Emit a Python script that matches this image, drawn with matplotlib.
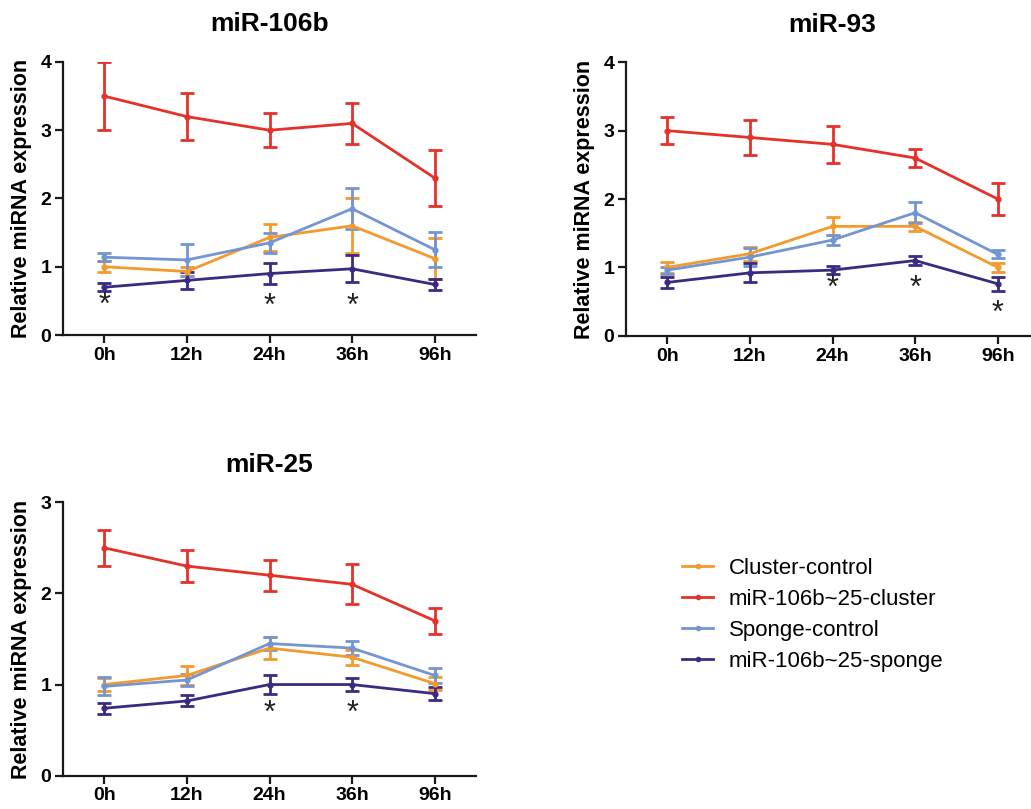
import matplotlib
matplotlib.use("Agg")
import matplotlib.pyplot as plt

plt.rcParams['font.family'] = ['Liberation Sans', 'DejaVu Sans']

# time points
time_labels = ['0h', '12h', '24h', '36h', '96h']
series_names = ['Cluster-control', 'miR-106b~25-cluster', 'Sponge-control', 'miR-106b~25-sponge']
series_colors = ['#F39A2C', '#E4322B', '#7395D0', '#3C2A82']

# miR-106b
mir106b_cluster_ctrl = [1.00, 0.93, 1.43, 1.60, 1.12]
mir106b_cluster_ctrl_err = [0.08, 0.06, 0.20, 0.40, 0.30]
mir106b_cluster = [3.50, 3.20, 3.00, 3.10, 2.30]
mir106b_cluster_err = [0.50, 0.34, 0.25, 0.30, 0.41]
mir106b_sponge_ctrl = [1.14, 1.10, 1.35, 1.85, 1.25]
mir106b_sponge_ctrl_err = [0.06, 0.23, 0.15, 0.30, 0.26]
mir106b_sponge = [0.70, 0.80, 0.90, 0.97, 0.74]
mir106b_sponge_err = [0.06, 0.12, 0.16, 0.20, 0.08]
mir106b_stars = [(0, 0.57), (2, 0.55), (3, 0.55)]

# miR-93
mir93_cluster_ctrl = [1.00, 1.20, 1.60, 1.60, 1.00]
mir93_cluster_ctrl_err = [0.08, 0.10, 0.13, 0.07, 0.07]
mir93_cluster = [3.00, 2.90, 2.80, 2.60, 2.00]
mir93_cluster_err = [0.20, 0.25, 0.27, 0.13, 0.23]
mir93_sponge_ctrl = [0.96, 1.15, 1.40, 1.80, 1.19]
mir93_sponge_ctrl_err = [0.05, 0.13, 0.07, 0.15, 0.06]
mir93_sponge = [0.78, 0.92, 0.96, 1.10, 0.76]
mir93_sponge_err = [0.08, 0.14, 0.06, 0.07, 0.10]
mir93_stars = [(2, 0.83), (3, 0.83), (4, 0.46)]

# miR-25
mir25_cluster_ctrl = [1.00, 1.10, 1.40, 1.30, 1.01]
mir25_cluster_ctrl_err = [0.07, 0.10, 0.12, 0.08, 0.07]
mir25_cluster = [2.50, 2.30, 2.20, 2.10, 1.70]
mir25_cluster_err = [0.20, 0.18, 0.17, 0.22, 0.14]
mir25_sponge_ctrl = [0.98, 1.05, 1.45, 1.40, 1.10]
mir25_sponge_ctrl_err = [0.10, 0.07, 0.07, 0.08, 0.08]
mir25_sponge = [0.74, 0.82, 1.00, 1.00, 0.90]
mir25_sponge_err = [0.06, 0.06, 0.10, 0.07, 0.07]
mir25_stars = [(2, 0.78), (3, 0.78)]

fig = plt.figure(figsize=(10.31, 8.09), dpi=100)


def draw_panel(rect, title, ymax, vals, errs, stars):
    ax = fig.add_axes(rect)
    x = list(range(len(time_labels)))
    handles = []
    for v, e, c, name in zip(vals, errs, series_colors, series_names):
        h = ax.errorbar(x, v, yerr=e, color=c, lw=2.0, marker='o', ms=3.5,
                        capsize=4.8, capthick=2.0, elinewidth=2.0, label=name)
        handles.append(h)
    fs = 22
    for i, y in stars:
        # asterisk glyph sits high in the em box, shift so its centre lands on y
        ax.annotate('*', (i, y), xytext=(0, -0.58 * fs), textcoords='offset points',
                    ha='center', va='baseline', fontsize=fs, color='#222222')
    ax.set_xlim(-0.5, 4.5)
    ax.set_ylim(0, ymax)
    ax.set_yticks(range(ymax + 1))
    ax.set_xticks(x)
    ax.set_xticklabels(time_labels)
    for s in ['top', 'right']:
        ax.spines[s].set_visible(False)
    for s in ['left', 'bottom']:
        ax.spines[s].set_linewidth(1.6)
        ax.spines[s].set_color('#1a1a1a')
    ax.tick_params(direction='out', length=5.5, width=1.6, color='#1a1a1a',
                   labelsize=14, pad=3)
    for lab in ax.get_xticklabels() + ax.get_yticklabels():
        lab.set_fontweight('bold')
    ax.set_ylabel('Relative miRNA expression', fontsize=15.5, fontweight='bold', labelpad=6)
    ax.set_title(title, fontsize=19, fontweight='bold', pad=22)
    return handles


h = draw_panel([0.0611, 0.5859, 0.4006, 0.3375], 'miR-106b', 4,
               [mir106b_cluster_ctrl, mir106b_cluster, mir106b_sponge_ctrl, mir106b_sponge],
               [mir106b_cluster_ctrl_err, mir106b_cluster_err, mir106b_sponge_ctrl_err, mir106b_sponge_err],
               mir106b_stars)
draw_panel([0.6072, 0.5850, 0.4006, 0.3380], 'miR-93', 4,
           [mir93_cluster_ctrl, mir93_cluster, mir93_sponge_ctrl, mir93_sponge],
           [mir93_cluster_ctrl_err, mir93_cluster_err, mir93_sponge_ctrl_err, mir93_sponge_err],
           mir93_stars)
draw_panel([0.0611, 0.0412, 0.4006, 0.3379], 'miR-25', 3,
           [mir25_cluster_ctrl, mir25_cluster, mir25_sponge_ctrl, mir25_sponge],
           [mir25_cluster_ctrl_err, mir25_cluster_err, mir25_sponge_ctrl_err, mir25_sponge_err],
           mir25_stars)

leg_handles = [plt.Line2D([], [], color=c, lw=2.0, marker='o', ms=3) for c in series_colors]
fig.legend(leg_handles, series_names, loc='upper left', bbox_to_anchor=(0.6615, 0.310),
           frameon=False, fontsize=16, handlelength=1.4, handletextpad=0.7,
           labelspacing=0.45, borderpad=0, borderaxespad=0)

fig.savefig('out.png', dpi=100)
